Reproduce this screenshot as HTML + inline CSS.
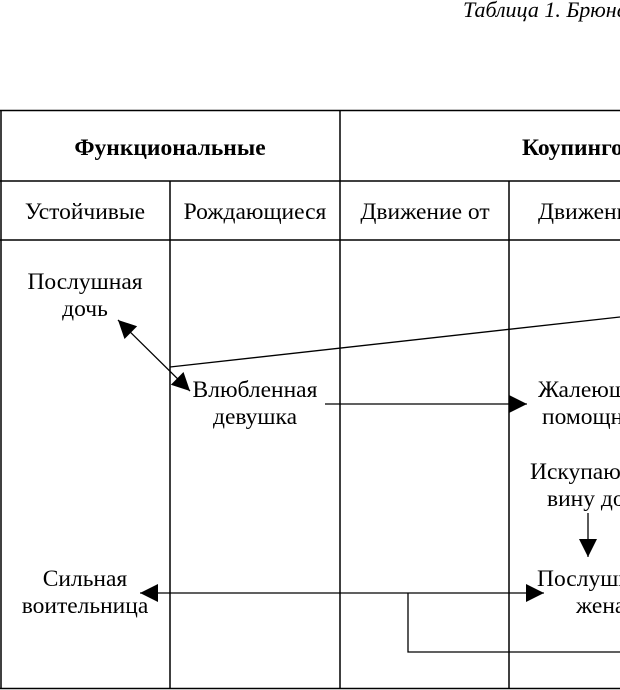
<!DOCTYPE html>
<html><head><meta charset="utf-8"><style>
html,body{margin:0;padding:0;background:#fff;width:620px;height:690px;overflow:hidden}
svg{display:block}
text{font-family:"Liberation Serif","DejaVu Serif",serif;font-size:23.5px;fill:#000}
</style></head><body>
<svg width="620" height="690" viewBox="0 0 620 690" xmlns="http://www.w3.org/2000/svg">
<defs>
<marker id="a" viewBox="0 0 10 10" refX="10" refY="5" markerWidth="20" markerHeight="18" markerUnits="userSpaceOnUse" orient="auto-start-reverse"><path d="M0,0 L10,5 L0,10 z" fill="#000"/></marker>
</defs>
<text x="463" y="17" font-style="italic" style="font-size:22px">Таблица 1. Брюнетка</text>
<g stroke="#000" stroke-width="1.5" fill="none">
<line x1="0" y1="110.5" x2="620" y2="110.5"/>
<line x1="1" y1="110" x2="1" y2="689"/>
<line x1="0" y1="181" x2="620" y2="181"/>
<line x1="0" y1="240" x2="620" y2="240"/>
<line x1="0" y1="688.5" x2="620" y2="688.5"/>
<line x1="340" y1="110" x2="340" y2="689"/>
<line x1="170" y1="181" x2="170" y2="689"/>
<line x1="509" y1="181" x2="509" y2="689"/>
</g>
<g stroke="#000" stroke-width="1.3" fill="none">
<line x1="118" y1="320" x2="190" y2="391" marker-start="url(#a)" marker-end="url(#a)"/>
<line x1="170" y1="367" x2="620" y2="317"/>
<line x1="325" y1="404" x2="527" y2="404" marker-end="url(#a)"/>
<line x1="588" y1="513" x2="588" y2="557" marker-end="url(#a)"/>
<line x1="140" y1="593" x2="544" y2="593" marker-start="url(#a)" marker-end="url(#a)"/>
<polyline points="408,593 408,652 620,652"/>
</g>
<text x="170" y="155" text-anchor="middle" font-weight="bold">Функциональные</text>
<text x="522" y="155" font-weight="bold">Коупинговые</text>
<text x="85" y="219" text-anchor="middle">Устойчивые</text>
<text x="255" y="219" text-anchor="middle">Рождающиеся</text>
<text x="425" y="219" text-anchor="middle">Движение от</text>
<text x="538" y="219">Движение к</text>
<text x="85" y="289" text-anchor="middle">Послушная</text>
<text x="85" y="316" text-anchor="middle">дочь</text>
<text x="255" y="397" text-anchor="middle">Влюбленная</text>
<text x="255" y="424" text-anchor="middle">девушка</text>
<text x="538" y="397">Жалеющая</text>
<text x="542" y="424">помощница</text>
<text x="530" y="479">Искупающая</text>
<text x="547" y="506">вину дочери</text>
<text x="85" y="586" text-anchor="middle">Сильная</text>
<text x="85" y="613" text-anchor="middle">воительница</text>
<text x="537" y="586">Послушная</text>
<text x="576" y="613">жена</text>
</svg>
</body></html>
